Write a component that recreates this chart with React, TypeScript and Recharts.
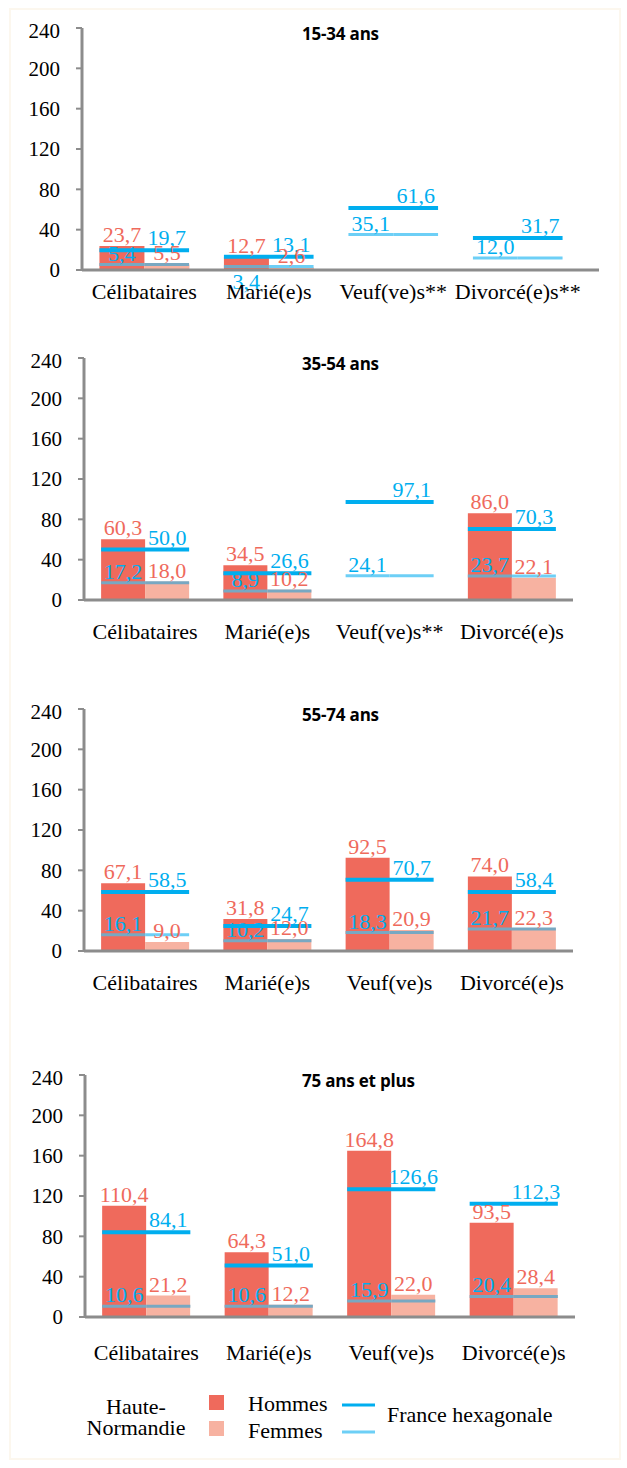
import React from 'react';
import { ComposedChart, Bar, Scatter, XAxis, YAxis } from 'recharts';

// y axis ticks shared by the four panels
const TICKS = [0, 40, 80, 120, 160, 200, 240];

const TITLES = ['15-34 ans', '35-54 ans', '55-74 ans', '75 ans et plus'];

const CATS_15_34 = ['Célibataires', 'Marié(e)s', 'Veuf(ve)s**', 'Divorcé(e)s**'];
const CATS_35_54 = ['Célibataires', 'Marié(e)s', 'Veuf(ve)s**', 'Divorcé(e)s'];
const CATS_55_74 = ['Célibataires', 'Marié(e)s', 'Veuf(ve)s', 'Divorcé(e)s'];
const CATS_75 = ['Célibataires', 'Marié(e)s', 'Veuf(ve)s', 'Divorcé(e)s'];

// Haute-Normandie
const HOMMES_15_34 = [23.7, 12.7, null, null];
const FEMMES_15_34 = [5.5, 2.6, null, null];
const HOMMES_35_54 = [60.3, 34.5, null, 86.0];
const FEMMES_35_54 = [18.0, 10.2, null, 22.1];
const HOMMES_55_74 = [67.1, 31.8, 92.5, 74.0];
const FEMMES_55_74 = [9.0, 12.0, 20.9, 22.3];
const HOMMES_75 = [110.4, 64.3, 164.8, 93.5];
const FEMMES_75 = [21.2, 12.2, 22.0, 28.4];

// France hexagonale
const FR_HOMMES_15_34 = [19.7, 13.1, 61.6, 31.7];
const FR_FEMMES_15_34 = [5.4, 3.4, 35.1, 12.0];
const FR_HOMMES_35_54 = [50.0, 26.6, 97.1, 70.3];
const FR_FEMMES_35_54 = [17.2, 8.9, 24.1, 23.7];
const FR_HOMMES_55_74 = [58.5, 24.7, 70.7, 58.4];
const FR_FEMMES_55_74 = [16.1, 10.2, 18.3, 21.7];
const FR_HOMMES_75 = [84.1, 51.0, 126.6, 112.3];
const FR_FEMMES_75 = [10.6, 10.6, 15.9, 20.4];

const RED = '#EF6A5C';
const SALMON = '#F7B2A1';
const BLUE = '#00AEEF';
const LIGHT_BLUE = '#6DCFF6';
const GREY_BLUE = '#78A8C2';
const AXIS = '#8C8C8C';
const SERIF = '"Liberation Serif", "Times New Roman", serif';
const GAP = 0.14;

const fmt = (v: number) => v.toFixed(1).replace('.', ',');

const build = (cats: string[], h: (number | null)[], f: (number | null)[], fh: number[], ff: number[]) =>
  cats.map((cat, i) => ({ cat, hommes: h[i], femmes: f[i], franceH: fh[i], franceF: ff[i] }));

const PANELS = [
  { data: build(CATS_15_34, HOMMES_15_34, FEMMES_15_34, FR_HOMMES_15_34, FR_FEMMES_15_34), plotTop: 28, left: 82, right: 580, pad: 19, tickMargin: 13 },
  { data: build(CATS_35_54, HOMMES_35_54, FEMMES_35_54, FR_HOMMES_35_54, FR_FEMMES_35_54), plotTop: 358, left: 84, right: 573, pad: 0, tickMargin: 23 },
  { data: build(CATS_55_74, HOMMES_55_74, FEMMES_55_74, FR_HOMMES_55_74, FR_FEMMES_55_74), plotTop: 709, left: 84, right: 573, pad: 0, tickMargin: 23 },
  { data: build(CATS_75, HOMMES_75, FEMMES_75, FR_HOMMES_75, FR_FEMMES_75), plotTop: 1075, left: 85, right: 575, pad: 0, tickMargin: 27 },
];

const txt = { fontFamily: SERIF, fontSize: 22 };
const tickTxt = { fontFamily: SERIF, fontSize: 21 };

const barLabel = (props: any) => {
  const { x, y, width, value } = props;
  if (value == null) return null;
  return (
    <text x={x + width / 2} y={y - 4} textAnchor="middle" fill={RED} style={txt}>
      {fmt(value)}
    </text>
  );
};

const franceShape = (kind: 'H' | 'F', groupW: number) => (props: any) => {
  const { cx, cy, payload } = props;
  if (cx == null || cy == null || !payload) return <g />;
  const v: number = kind === 'H' ? payload.franceH : payload.franceF;
  const x0 = cx - groupW / 2;
  const x1 = cx + groupW / 2;
  if (kind === 'H') {
    return (
      <g>
        <line x1={x0} x2={x1} y1={cy} y2={cy} stroke={BLUE} strokeWidth={4} />
        <text x={cx + groupW / 4} y={cy - 5} textAnchor="middle" fill={BLUE} style={txt}>
          {fmt(v)}
        </text>
      </g>
    );
  }
  const overLeft = payload.hommes != null && payload.hommes >= v;
  const overRight = payload.femmes != null && payload.femmes >= v;
  const below = v < 4;
  return (
    <g>
      <line x1={x0} x2={cx} y1={cy} y2={cy} stroke={overLeft ? GREY_BLUE : LIGHT_BLUE} strokeWidth={3} />
      <line x1={cx} x2={x1} y1={cy} y2={cy} stroke={overRight ? GREY_BLUE : LIGHT_BLUE} strokeWidth={3} />
      <text x={cx - groupW / 4} y={below ? cy + 22 : cy - 4} textAnchor="middle" fill={BLUE} style={txt}>
        {fmt(v)}
      </text>
    </g>
  );
};

function Panel({ idx }: { idx: number }) {
  const p = PANELS[idx];
  const top = p.plotTop - 10;
  const groupW = ((p.right - p.left) / 4) * (1 - 2 * GAP);
  return (
    <div style={{ position: 'absolute', left: 0, top }}>
      <ComposedChart
        width={627}
        height={302}
        data={p.data}
        margin={{ top: 10, right: 627 - p.right - p.pad, bottom: 0, left: 0 }}
        barCategoryGap={`${GAP * 100}%`}
        barGap={0}
        style={{ fontFamily: SERIF }}
      >
        <XAxis
          dataKey="cat"
          height={50}
          padding={{ left: 0, right: p.pad }}
          axisLine={{ stroke: AXIS, strokeWidth: 3 }}
          tickLine={false}
          tickSize={0}
          tickMargin={p.tickMargin}
          tick={{ fill: '#000', fontSize: 22, fontFamily: SERIF, style: txt }}
          interval={0}
        />
        <YAxis
          width={p.left}
          domain={[0, 240]}
          ticks={TICKS}
          axisLine={{ stroke: AXIS, strokeWidth: 3 }}
          tickLine={{ stroke: AXIS, strokeWidth: 2 }}
          tickSize={6}
          tickMargin={16}
          tick={{ fill: '#000', fontSize: 21, fontFamily: SERIF, style: tickTxt }}
        />
        <Bar dataKey="hommes" fill={RED} isAnimationActive={false} label={barLabel} />
        <Bar dataKey="femmes" fill={SALMON} isAnimationActive={false} label={barLabel} />
        <Scatter dataKey="franceF" isAnimationActive={false} shape={franceShape('F', groupW)} />
        <Scatter dataKey="franceH" isAnimationActive={false} shape={franceShape('H', groupW)} />
      </ComposedChart>
      <div
        style={{
          position: 'absolute',
          left: 302,
          top: 6,
          fontFamily: '"Open Sans", sans-serif',
          fontWeight: 700,
          fontSize: 17,
          letterSpacing: -0.2,
          lineHeight: '20px',
          color: '#000',
        }}
      >
        {TITLES[idx]}
      </div>
    </div>
  );
}

function Legend() {
  const t = { fontFamily: SERIF, fontSize: 22 };
  return (
    <svg width={627} height={80} style={{ position: 'absolute', left: 0, top: 1380 }}>
      <text x={136} y={34} textAnchor="middle" fill="#000" style={t}>Haute-</text>
      <text x={136} y={55} textAnchor="middle" fill="#000" style={t}>Normandie</text>
      <rect x={209} y={15} width={15} height={15} fill={RED} />
      <rect x={209} y={41} width={15} height={15} fill={SALMON} />
      <text x={248} y={31} fill="#000" style={t}>Hommes</text>
      <text x={248} y={58} fill="#000" style={t}>Femmes</text>
      <line x1={342} x2={375} y1={25} y2={25} stroke={BLUE} strokeWidth={3} />
      <line x1={342} x2={375} y1={52} y2={52} stroke={LIGHT_BLUE} strokeWidth={3} />
      <text x={387} y={42} fill="#000" style={t}>France hexagonale</text>
    </svg>
  );
}

export default function App() {
  return (
    <div style={{ position: 'absolute', left: 0, top: 0, width: 627, height: 1468, background: '#fff' }}>
      <div style={{ position: 'absolute', left: 9, top: 8, width: 612, height: 1452, border: '2px solid #FCF7EE', boxSizing: 'border-box' }} />
      {PANELS.map((_, i) => (
        <Panel key={i} idx={i} />
      ))}
      <Legend />
    </div>
  );
}
